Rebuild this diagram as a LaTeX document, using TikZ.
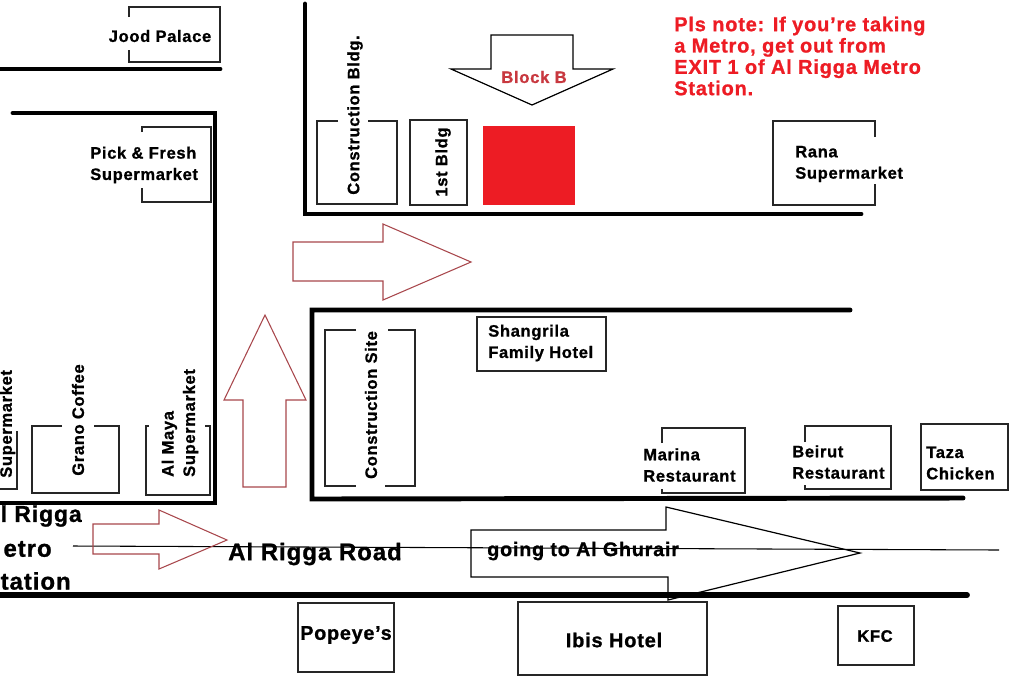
\documentclass[tikz,border=0pt]{standalone}
\usepackage{fontspec}
\usepackage{xcolor}
\setmainfont[LetterSpace=4,BoldFeatures={FakeBold=1}]{Liberation Sans}
\usetikzlibrary{positioning}
\definecolor{blockred}{HTML}{ED1C24}
\definecolor{arrowred}{HTML}{A8474C}
\definecolor{labelred}{HTML}{C8383F}
\tikzstyle{road} = [line width=3.7pt, black, line cap=round]
\tikzstyle{bldg} = [line width=0.8pt, black!85]
\tikzstyle{redarrow} = [line width=0.8pt, arrowred]
\tikzstyle{blackarrow} = [line width=0.9pt, black]
\tikzstyle{label} = [inner sep=0pt, font=\fontsize{12.4}{16}\selectfont\bfseries, align=left]
\tikzstyle{biglabel} = [inner sep=0pt, font=\fontsize{18}{16}\selectfont\bfseries]
\tikzstyle{notelabel} = [inner sep=0pt, font=\fontsize{15}{16}\selectfont\bfseries, text=blockred, align=left]

\begin{document}
\begin{tikzpicture}[x=0.75pt,y=-0.75pt]
		\useasboundingbox (0,0) rectangle (1024,683);
		% Roads
		\draw [road] (0,69)--(220,69);
		\draw [road] (13,113)--(215,113)--(215,503)--(0,503);
		\draw [road] (305,4)--(305,214)--(861,214);
		\draw [road] (850,310)--(312,310)--(312,499)--(963,498);
		\draw [road, line width=4.4pt] (0,595)--(967,595);
		% Road centre line
		\draw [black, line width=0.8pt] (73,546)--(999,550);
		% Buildings
		\draw [bldg] (129,17)--(129,7)--(220,7)--(220,62)--(129,62)--(129,50);
		\draw [bldg] (142,132)--(142,127)--(211,127)--(211,202)--(142,202)--(142,188);
		\draw [bldg] (338,121)--(317,121)--(317,204)--(397,204)--(397,121)--(368,121);
		\draw [bldg] (410,120) rectangle (467,205);
		\fill [blockred] (483,126) rectangle (575,205);
		\draw [bldg] (875,137)--(875,121)--(773,121)--(773,205)--(875,205)--(875,184);
		\draw [bldg] (477,317) rectangle (606,371);
		\draw [bldg] (356,330)--(325,330)--(325,486)--(356,486);
		\draw [bldg] (388,330)--(415,330)--(415,486)--(385,486);
		\draw [bldg] (662,443)--(662,428)--(745,428)--(745,493)--(662,493)--(662,489);
		\draw [bldg] (805,442)--(805,426)--(891,426)--(891,489)--(805,489)--(805,485);
		\draw [bldg] (921,424) rectangle (1008,490);
		\draw [bldg] (298,603) rectangle (394,672);
		\draw [bldg] (518,602) rectangle (707,675);
		\draw [bldg] (838,606) rectangle (914,665);
		\draw [bldg] (62,426)--(32,426)--(32,493)--(119,493)--(119,426)--(94,426);
		\draw [bldg] (149,426)--(146,426)--(146,495)--(210,495)--(210,426)--(205,426);
		\draw [bldg] (0,489)--(17,489)--(17,431);
		% Arrows
		\draw [redarrow] (293,242)--(383,242)--(383,224)--(471,262)--(383,300)--(383,281)--(293,281)--cycle;
		\draw [redarrow] (265,315)--(306,400)--(286,400)--(286,487)--(243,487)--(243,400)--(224,400)--cycle;
		\draw [redarrow] (93,524)--(159,524)--(159,510)--(227,540)--(159,569)--(159,554)--(93,554)--cycle;
		\draw [blackarrow] (491,35)--(573,35)--(573,69)--(613,69)--(532,105)--(451,69)--(491,69)--cycle;
		\draw [blackarrow] (471,530)--(666,530)--(666,507)--(860,553)--(668,600)--(668,577)--(471,577)--cycle;
		% Labels
		\node[label, name=joodpalace] at (160,36) {Jood Palace};
		\node[label, name=pickfresh, anchor=west] at (90,165) {Pick \& Fresh\\Supermarket};
		\node[label, name=constbldg, rotate=90] at (355,115) {Construction Bldg.};
		\node[label, name=firstbldg, rotate=90] at (443,162) {1st Bldg};
		\node[label, name=blockb, text=labelred, font=\fontsize{12.5}{16}\selectfont\bfseries] at (534,77) {Block B};
		\node[label, name=rana, anchor=west] at (795,164) {Rana\\Supermarket};
		\node[label, name=shangrila, anchor=west] at (488,343) {Shangrila\\Family Hotel};
		\node[label, name=constsite, rotate=90] at (371,405) {Construction Site};
		\node[label, name=marina, anchor=west] at (643,465) {Marina\\Restaurant};
		\node[label, name=beirut, anchor=west] at (792,462) {Beirut\\Restaurant};
		\node[label, name=taza, anchor=west] at (926,463) {Taza\\Chicken};
		\node[label, name=popeyes, font=\fontsize{14.8}{16}\selectfont\bfseries] at (346,635) {Popeye's};
		\node[label, name=ibis, font=\fontsize{15}{16}\selectfont\bfseries] at (614,640) {Ibis Hotel};
		\node[label, name=kfc] at (875,636) {KFC};
		\node[label, name=grano, rotate=90] at (78,420) {Grano Coffee};
		\node[label, name=almaya, rotate=90] at (180,423) {Al Maya\\Supermarket};
		\node[label, name=supermarket, rotate=90, anchor=west] at (7.5,478) {Supermarket};
		\node[label, name=ghurair, anchor=west, font=\fontsize{14.8}{16}\selectfont\bfseries] at (487,551) {going to Al Ghurair};
		\node[biglabel, name=riggaroad] at (315,554) {Al Rigga Road};
		\node[biglabel, name=station1, anchor=east, font=\fontsize{17.2}{16}\selectfont\bfseries] at (82,516) {l Rigga};
		\node[biglabel, name=station2, anchor=east] at (52,549) {etro};
		\node[biglabel, name=station3, anchor=east] at (71,581) {tation};
		% Metro note
		\node[notelabel, name=metronote, anchor=west] at (674,56) {Pls note: If you're taking\\a Metro, get out from\\EXIT 1 of Al Rigga Metro\\Station.};
\end{tikzpicture}
\end{document}
